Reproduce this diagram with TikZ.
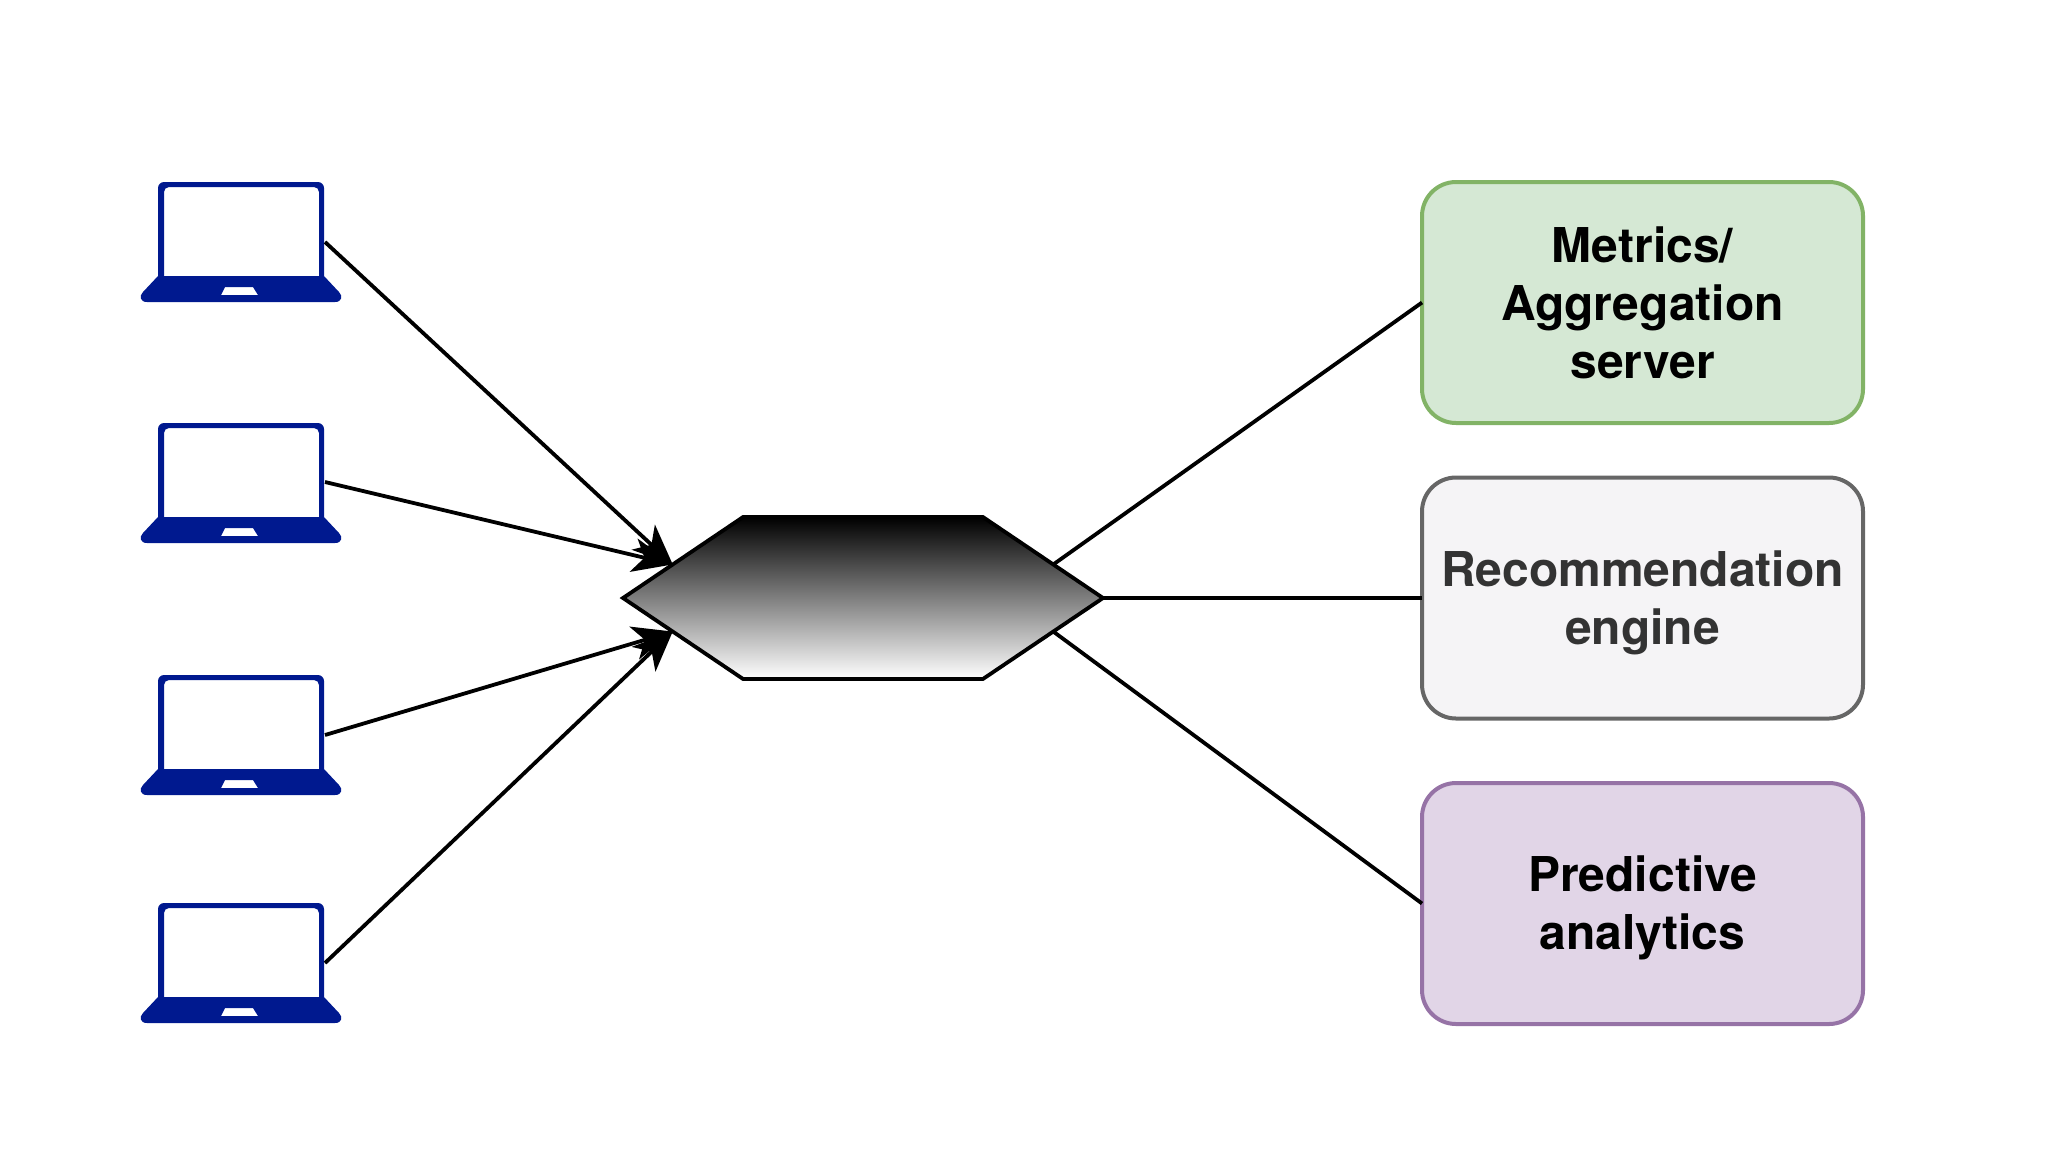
\documentclass[tikz,border=0pt]{standalone}
\usepackage{fontspec}
\setmainfont{TeX Gyre Heros}
\usetikzlibrary{arrows.meta,shapes.symbols}
\definecolor{lapblue}{HTML}{00198F}
\definecolor{metricsfill}{HTML}{D5E8D4}
\definecolor{metricsline}{HTML}{82B366}
\definecolor{recomfill}{HTML}{F5F4F6}
\definecolor{recomline}{HTML}{666666}
\definecolor{recomtext}{HTML}{333333}
\definecolor{predictfill}{HTML}{E1D5E7}
\definecolor{predictline}{HTML}{9673A6}
\tikzset{
  wire/.style={line width=1.9pt,black},
  inwire/.style={wire,-{Stealth[length=20pt,width=17pt,inset=5.5pt]}},
  servbox/.style={draw,line width=2pt,rounded corners=17pt,minimum width=220.5pt,minimum height=120.5pt,
    inner sep=0pt,outer sep=0pt,align=center,font=\bfseries\fontsize{24}{29}\selectfont},
  pics/laptop/.style={code={
    \fill[lapblue,even odd rule]
      (0,94) [rounded corners=3pt] -- (0,0) -- (166,0) [sharp corners] -- (166,94)
      -- (181,110) .. controls (185,114) and (184,120) .. (177,120) -- (-11,120)
      .. controls (-18,120) and (-19,114) .. (-15,110) -- cycle
      (6,94) [rounded corners=2.5pt] -- (6,5) -- (161,5) [sharp corners] -- (161,94) -- cycle
      (67,105) -- (95,105) -- (100,113) -- (63,113) -- cycle;
    \coordinate (-port) at (167,#1);
  }}
}

\begin{document}
\begin{tikzpicture}[x=0.5pt,y=-0.5pt]
  \useasboundingbox (0,0) rectangle (2048,1152);
  % Laptops on the left
  \pic (lapA) at (158,182) {laptop=60};
  \pic (lapB) at (158,423) {laptop=59};
  \pic (lapC) at (158,675) {laptop=60};
  \pic (lapD) at (158,903) {laptop=60};
  % Hexagon in the middle
  \node[shape=signal,signal to=east and west,signal pointer angle=68,draw,line width=1.9pt,
    top color=black,bottom color=white,minimum width=240pt,minimum height=81pt,inner sep=0pt,outer sep=0pt] (hub) at (863,598) {};
  % Boxes on the right
  \node[servbox,fill=metricsfill,draw=metricsline] (metrics) at (1642.5,302.5) {Metrics/\\Aggregation\\server};
  \node[servbox,fill=recomfill,draw=recomline,text=recomtext] (recom) at (1642.5,598) {\rule{0pt}{22.5pt}Recommendation\\engine};
  \node[servbox,fill=predictfill,draw=predictline] (predict) at (1642.5,903.5) {\rule{0pt}{22.5pt}Predictive\\analytics};
  % Edges into the hexagon
  \draw[inwire] (lapA-port) -- (hub.170);
  \draw[inwire] (lapB-port) -- (hub.170);
  \draw[inwire] (lapC-port) -- (hub.190);
  \draw[inwire] (lapD-port) -- (hub.190);
  % Edges out of the hexagon
  \draw[wire] (hub.10) -- (metrics.west);
  \draw[wire] (hub.east) -- (recom.west);
  \draw[wire] (hub.-10) -- (predict.west);
\end{tikzpicture}
\end{document}
